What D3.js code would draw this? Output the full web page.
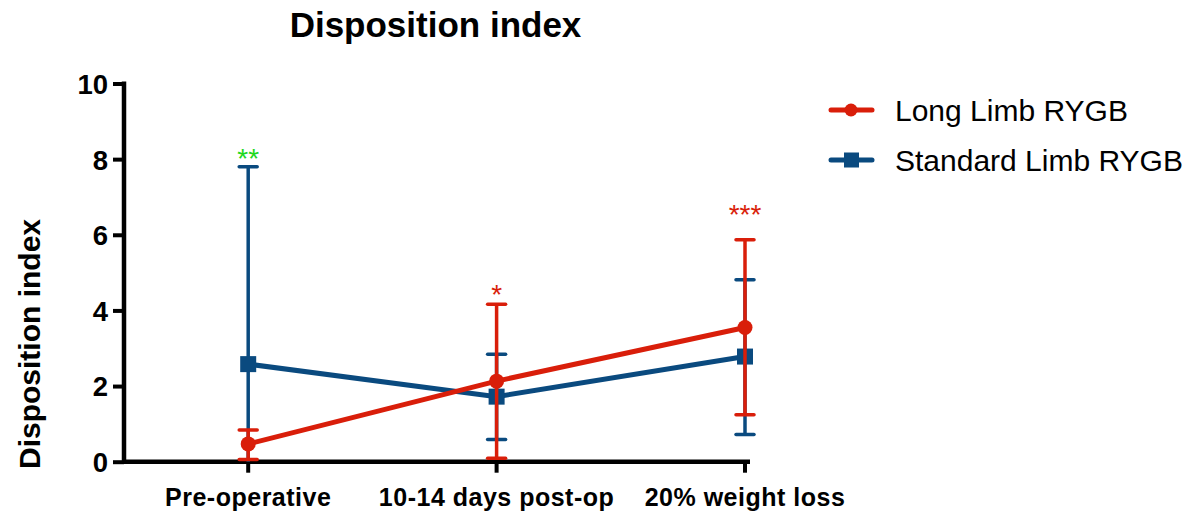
<!DOCTYPE html>
<html><head><meta charset="utf-8">
<script src="https://cdn.jsdelivr.net/npm/d3@7"></script>
<style>body{margin:0;background:#fff}svg{display:block}</style>
</head><body>
<svg id="c" width="1200" height="518"></svg>
<script>
const categories = ["Pre-operative", "10-14 days post-op", "20% weight loss"];
const yTicks = [0, 2, 4, 6, 8, 10];
const longMean = [0.47, 2.13, 3.55];
const longUpper = [0.84, 4.16, 5.87];
const longLower = [0.06, 0.09, 1.24];
const stdMean = [2.58, 1.72, 2.78];
const stdUpper = [7.8, 2.84, 4.81];
const stdLower = [0, 0.59, 0.72];
const annotations = [
  {cat: 0, text: "**", level: 8.2, series: "std"},
  {cat: 1, text: "*", level: 4.59, series: "long"},
  {cat: 2, text: "***", level: 6.72, series: "long"}
];
const seriesNames = ["Long Limb RYGB", "Standard Limb RYGB"];

const FONT = "'Liberation Sans', Arial, Helvetica, sans-serif";
const RED = "#d91e0a", BLUE = "#0a4a7f", GREEN = "#1ed81e";
const svg = d3.select("#c");
const y = d3.scaleLinear().domain([0, 10]).range([461.7, 83.5]);
const x = d3.scaleLinear().domain([-0.5, 2.5]).range([124, 869.2]);
const xAxisEnd = 750;

// Title
svg.append("text").attr("x", 435.5).attr("y", 37).attr("text-anchor", "middle")
  .attr("font-family", FONT).attr("font-weight", "bold")
  .attr("font-size", 35).text("Disposition index");

// Y axis
const yAxis = d3.axisLeft(y).tickValues(yTicks).tickSize(11).tickPadding(5);
const gy = svg.append("g").attr("transform", "translate(124,0)").call(yAxis);
gy.select(".domain").remove();
gy.selectAll(".tick line").attr("stroke", "#000").attr("stroke-width", 4);
gy.selectAll(".tick text").attr("font-family", FONT)
  .attr("font-weight", "bold").attr("font-size", 27.5).attr("fill", "#000").attr("dy", "0.36em");
svg.append("line").attr("x1", 124).attr("x2", 124).attr("y1", y(10) - 2).attr("y2", y(0) + 2)
  .attr("stroke", "#000").attr("stroke-width", 4.5);

// X axis
svg.append("line").attr("x1", 122).attr("x2", xAxisEnd).attr("y1", y(0)).attr("y2", y(0))
  .attr("stroke", "#000").attr("stroke-width", 4.5);
categories.forEach((c, i) => {
  svg.append("line").attr("x1", x(i)).attr("x2", x(i)).attr("y1", y(0)).attr("y2", y(0) + 11)
    .attr("stroke", "#000").attr("stroke-width", 4);
  svg.append("text").attr("x", x(i)).attr("y", 506).attr("text-anchor", "middle")
    .attr("font-family", FONT).attr("font-weight", "bold").attr("letter-spacing", 0.5)
    .attr("font-size", 25).text(c);
});

// Y axis title
svg.append("text").attr("transform", "translate(40,344) rotate(-90)").attr("text-anchor", "middle")
  .attr("font-family", FONT).attr("font-weight", "bold")
  .attr("font-size", 30).text("Disposition index");

function drawSeries(mean, up, lo, color, marker) {
  const g = svg.append("g");
  mean.forEach((m, i) => {
    g.append("line").attr("x1", x(i)).attr("x2", x(i)).attr("y1", y(up[i])).attr("y2", y(lo[i]))
      .attr("stroke", color).attr("stroke-width", 3.5);
    g.append("line").attr("x1", x(i) - 9).attr("x2", x(i) + 9).attr("y1", y(up[i])).attr("y2", y(up[i]))
      .attr("stroke", color).attr("stroke-width", 3.5).attr("stroke-linecap", "round");
    if (lo[i] > 0.02)
      g.append("line").attr("x1", x(i) - 9).attr("x2", x(i) + 9).attr("y1", y(lo[i])).attr("y2", y(lo[i]))
        .attr("stroke", color).attr("stroke-width", 3.5).attr("stroke-linecap", "round");
  });
  g.append("path").datum(mean).attr("fill", "none").attr("stroke", color).attr("stroke-width", 5)
    .attr("d", d3.line().x((d, i) => x(i)).y(d => y(d)));
  mean.forEach((m, i) => {
    if (marker === "circle")
      g.append("circle").attr("cx", x(i)).attr("cy", y(m)).attr("r", 7.5).attr("fill", color);
    else
      g.append("rect").attr("x", x(i) - 8).attr("y", y(m) - 8).attr("width", 16).attr("height", 16).attr("fill", color);
  });
}
drawSeries(stdMean, stdUpper, stdLower, BLUE, "square");
drawSeries(longMean, longUpper, longLower, RED, "circle");

// annotations (level = vertical centre of the asterisks)
const AFS = 28;
annotations.forEach(a => {
  svg.append("text").attr("x", x(a.cat)).attr("y", y(a.level) + 0.58 * AFS).attr("text-anchor", "middle")
    .attr("font-family", FONT).attr("font-size", AFS)
    .attr("fill", a.series === "std" ? GREEN : RED).text(a.text);
});

// legend
const legend = [{name: seriesNames[0], color: RED, marker: "circle", y: 110},
                {name: seriesNames[1], color: BLUE, marker: "square", y: 160}];
legend.forEach(l => {
  svg.append("line").attr("x1", 831).attr("x2", 872).attr("y1", l.y).attr("y2", l.y)
    .attr("stroke", l.color).attr("stroke-width", 5).attr("stroke-linecap", "round");
  if (l.marker === "circle")
    svg.append("circle").attr("cx", 851).attr("cy", l.y).attr("r", 6.5).attr("fill", l.color);
  else
    svg.append("rect").attr("x", 844).attr("y", l.y - 7.5).attr("width", 15).attr("height", 15).attr("fill", l.color);
  svg.append("text").attr("x", 895).attr("y", l.y + 11).attr("font-family", FONT)
    .attr("font-size", 30).attr("fill", "#000").text(l.name);
});
</script>
</body></html>
